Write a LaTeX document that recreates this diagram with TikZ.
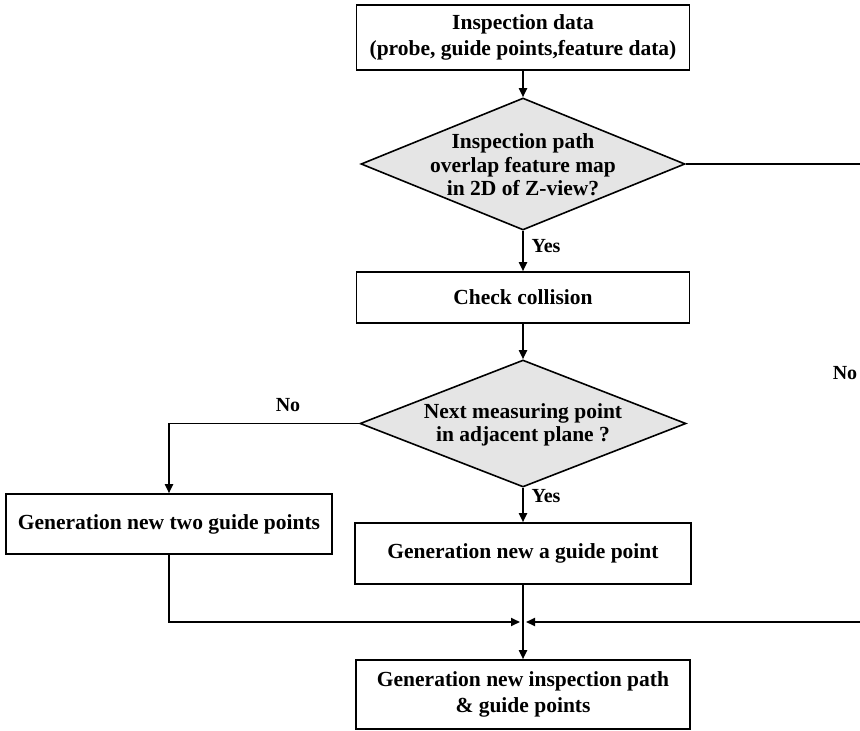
\documentclass[tikz,border=0pt]{standalone}
\usepackage{fontspec}
\setmainfont{Liberation Serif}
\usetikzlibrary{shapes.geometric,arrows.meta}
\begin{document}
\begin{tikzpicture}[x=1pt,y=-1pt,
  box/.style={draw, line width=1.6pt, fill=white, inner sep=0pt, align=center,
    font=\fontsize{21.5}{26}\selectfont\bfseries},
  decision/.style={diamond, draw, line width=1.6pt, fill=gray!20, inner sep=0pt},
  dtext/.style={align=center, inner sep=0pt, font=\fontsize{21.5}{23.5}\selectfont\bfseries},
  lbl/.style={inner sep=0pt, font=\fontsize{20}{22}\selectfont\bfseries},
  flow/.style={-{Triangle[length=9pt,width=8pt]}, line width=1.8pt},
  link/.style={line width=1.8pt}]
\useasboundingbox (0,0) rectangle (860,731);
\fill[white] (0,0) rectangle (860,731);

% boxes and decisions
\node[box, minimum width=333pt, minimum height=65pt] (input) at (523,37.5)
  {Inspection data\\(probe, guide points,feature data)};
\node[decision, minimum width=324pt, minimum height=132pt] (overlap) at (523,164) {};
\node[dtext] (overlapText) at (523,165)
  {Inspection path\\overlap feature map\\in 2D of Z-view?};
\node[box, minimum width=333pt, minimum height=51pt] (collision) at (523,297.5)
  {Check collision};
\node[decision, minimum width=326pt, minimum height=127pt] (adjacent) at (523,423.5) {};
\node[dtext] (adjacentText) at (523,425)
  {Next measuring point\\in adjacent plane ?};
\node[box, minimum width=326pt, minimum height=60pt] (twoGuides) at (169,524)
  {Generation new two guide points};
\node[box, minimum width=336pt, minimum height=61pt] (oneGuide) at (523,553.5)
  {Generation new a guide point};
\node[box, minimum width=334pt, minimum height=69pt] (newPath) at (523,694.5)
  {Generation new inspection path\\\& guide points};

% junction and the outer return route
\coordinate (merge) at (523,622);
\coordinate (farTop) at (874,164);
\coordinate (farBottom) at (874,622);

% connectors
\draw[flow] (input.south) -- (overlap.north);
\draw[flow] (overlap.south) -- (collision.north);
\draw[flow] (collision.south) -- (adjacent.north);
\draw[flow] (adjacent.south) -- (oneGuide.north);
\draw[flow] (adjacent.west) -| (twoGuides.north);
\draw[flow] (oneGuide.south) -- (newPath.north);
\draw[flow, shorten >=3pt] (twoGuides.south) |- (merge);
\draw[link] (overlap.east) -- (farTop) -- (farBottom);
\draw[flow, shorten >=3pt] (farBottom) -- (merge);

% branch labels
\node[lbl] (yesOverlap) at (546,246) {Yes};
\node[lbl] (yesAdjacent) at (546,496) {Yes};
\node[lbl] (noAdjacent) at (288,405) {No};
\node[lbl] (noOverlap) at (845,373) {No};
\end{tikzpicture}
\end{document}
